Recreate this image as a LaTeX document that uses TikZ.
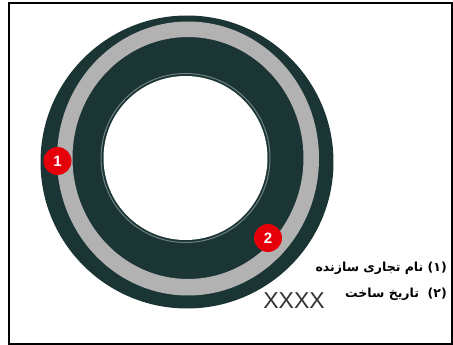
\documentclass[tikz,border=0pt]{standalone}
\usepackage{fontspec}
\setmainfont{Liberation Sans}
\newfontfamily\farsifont[Script=Arabic]{DejaVu Sans}
\TeXXeTstate=1
\usepackage{xcolor}
\definecolor{tyreDark}{HTML}{1B3535}
\definecolor{tyreGrey}{HTML}{B2B2B2}
\definecolor{tyreLine}{HTML}{6F8080}
\definecolor{tyreRed}{HTML}{E5000A}
\definecolor{tyreText}{HTML}{333333}
\usetikzlibrary{positioning}

\begin{document}
\begin{tikzpicture}[x=1pt, y=-1pt,
    badge/.style={circle, fill=tyreRed, text=white, minimum size=28pt, inner sep=0pt, font=\bfseries\fontsize{15}{15}\selectfont},
    caption/.style={anchor=east, inner sep=0pt, font=\farsifont\bfseries\fontsize{12.5}{14}\selectfont}
  ]
    \useasboundingbox (0,0) rectangle (453,345);
    \draw[line width=2pt] (8.5,3.5) rectangle (451.5,343.5);
    % tyre rings
    \fill[tyreDark] (187,162) circle [radius=146.5pt];
    \fill[tyreGrey, even odd rule] (188,158.5) ellipse [x radius=131pt, y radius=137pt]
                                   (188,158) ellipse [x radius=115.5pt, y radius=121pt];
    \draw[tyreLine, line width=1pt] (185.5,158) circle [radius=84.5pt];
    \fill[white] (185.5,158) circle [radius=82pt];
    % markers
    \node[badge] (brand) at (57.5,161) {1};
    \node[badge] (date) at (268,238) {2};
    % legend
    \node[caption] (brandtext) at (447,268) {\beginR(۱) نام تجاری سازنده\endR};
    \node[caption] (datetext) at (447,294) {\beginR(۲)\ \ تاریخ ساخت\endR};
    \node[text=tyreText, font=\fontsize{23}{23}\selectfont, inner sep=0pt] (datecode) at (294,301) {XXXX};
  \end{tikzpicture}
\end{document}
